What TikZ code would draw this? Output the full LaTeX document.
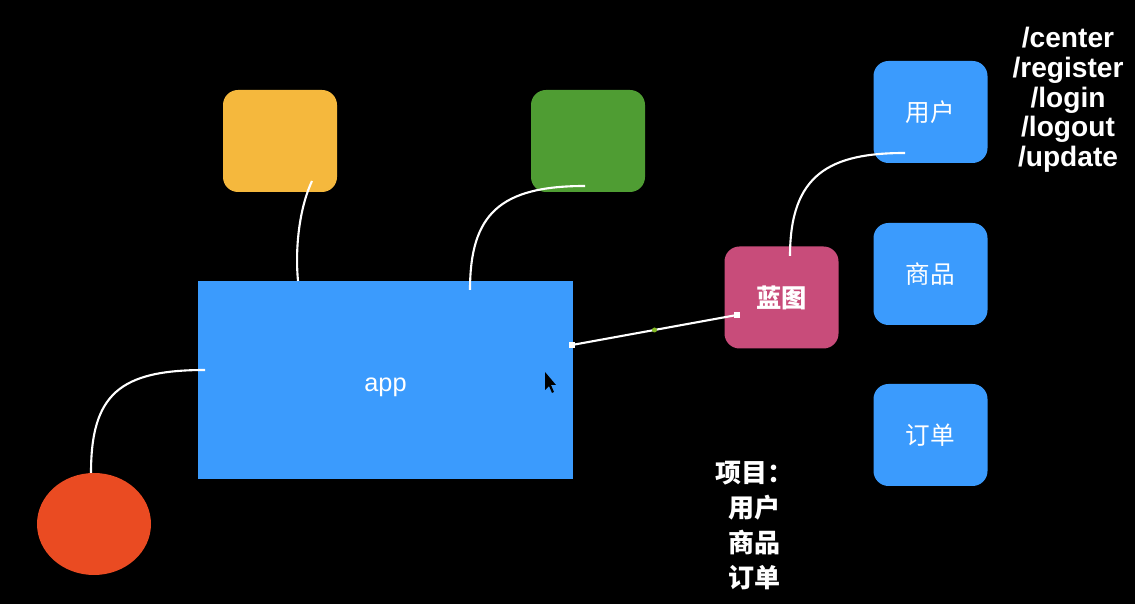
\documentclass[tikz,border=0pt]{standalone}
\usepackage{fontspec}
\setmainfont{Liberation Sans}
\newfontfamily\cjk{Noto Sans CJK SC}
\usepackage{xcolor}
\usepackage{tikz}
\usetikzlibrary{positioning,calc,shapes.geometric}
\definecolor{appblue}{HTML}{3B9BFD}
\definecolor{ylw}{HTML}{F5B83D}
\definecolor{grn}{HTML}{4F9D33}
\definecolor{rd}{HTML}{EA4B22}
\definecolor{pnk}{HTML}{C84C7A}
\tikzset{
  card/.style={rounded corners=0.15cm,minimum width=1.14cm,minimum height=1.02cm,inner sep=0pt,text=white,font=\cjk\fontsize{7}{8}\selectfont},
  wire/.style={white,line width=0.6pt},
}

\begin{document}
\begin{tikzpicture}
\fill[black] (0,0) rectangle (11.35,6.04);
\useasboundingbox (0,0) rectangle (11.35,6.04);
% app and the pieces round it
\node[fill=appblue,minimum width=3.75cm,minimum height=1.98cm,inner sep=0pt,label={[text=white,font=\fontsize{7.2}{8}\selectfont,yshift=-0.07cm]center:app}] (app) at (3.855,2.24) {};
\node[card,fill=ylw] (ylwbox) at (2.80,4.63) {};
\node[card,fill=grn] (grnbox) at (5.88,4.63) {};
\node[ellipse,fill=rd,minimum width=1.14cm,minimum height=1.02cm,inner sep=0pt] (redball) at (0.94,0.80) {};
\node[card,fill=pnk,font=\cjk\bfseries\fontsize{7.2}{8}\selectfont] (bp) at (7.815,3.065) {蓝图};
\node[card,fill=appblue] (user) at (9.305,4.92) {用户};
\node[card,fill=appblue] (goods) at (9.305,3.30) {商品};
\node[card,fill=appblue] (order) at (9.305,1.69) {订单};
% texts
\node[text=white,align=center,font=\bfseries\fontsize{8}{8.45}\selectfont] (routes) at (10.68,5.04) {/center\\/register\\/login\\/logout\\/update};
\node[text=white,align=left,anchor=north west,font=\cjk\bfseries\fontsize{7.4}{9.95}\selectfont] (items) at (7.03,1.55) {项目：\\\hspace*{0.13cm}用户\\\hspace*{0.13cm}商品\\\hspace*{0.13cm}订单};
% ends of the curves
\coordinate (y1) at (3.12,4.23);
\coordinate (y2) at (2.98,3.23);
\coordinate (g1) at (5.85,4.18);
\coordinate (g2) at (4.70,3.14);
\coordinate (r1) at (2.05,2.34);
\coordinate (r2) at (0.91,1.31);
\coordinate (b1) at (7.90,3.48);
\coordinate (b2) at (9.05,4.51);
\coordinate (l1) at (5.72,2.59);
\coordinate (l2) at (7.37,2.89);
\draw[wire] (y1) .. controls (2.99,3.95) and (2.95,3.55) .. (y2);
\draw[wire] (g1) .. controls (5.00,4.18) and (4.70,3.90) .. (g2);
\draw[wire] (r1) .. controls (1.20,2.34) and (0.91,2.10) .. (r2);
\draw[wire] (b1) .. controls (7.90,4.30) and (8.30,4.51) .. (b2);
\draw[wire] (l1) -- (l2);
\fill[white] (l1) ++(-0.03,-0.03) rectangle ++(0.06,0.06);
\fill[white] (l2) ++(-0.03,-0.03) rectangle ++(0.06,0.06);
\fill[grn!70!yellow] ($(l1)!0.5!(l2)$) circle (0.025);
% mouse pointer
\fill[black] (5.45,2.32) -- (5.45,2.14) -- (5.49,2.18) -- (5.52,2.11) -- (5.54,2.12) -- (5.51,2.19) -- (5.56,2.19) -- cycle;
\end{tikzpicture}
\end{document}
